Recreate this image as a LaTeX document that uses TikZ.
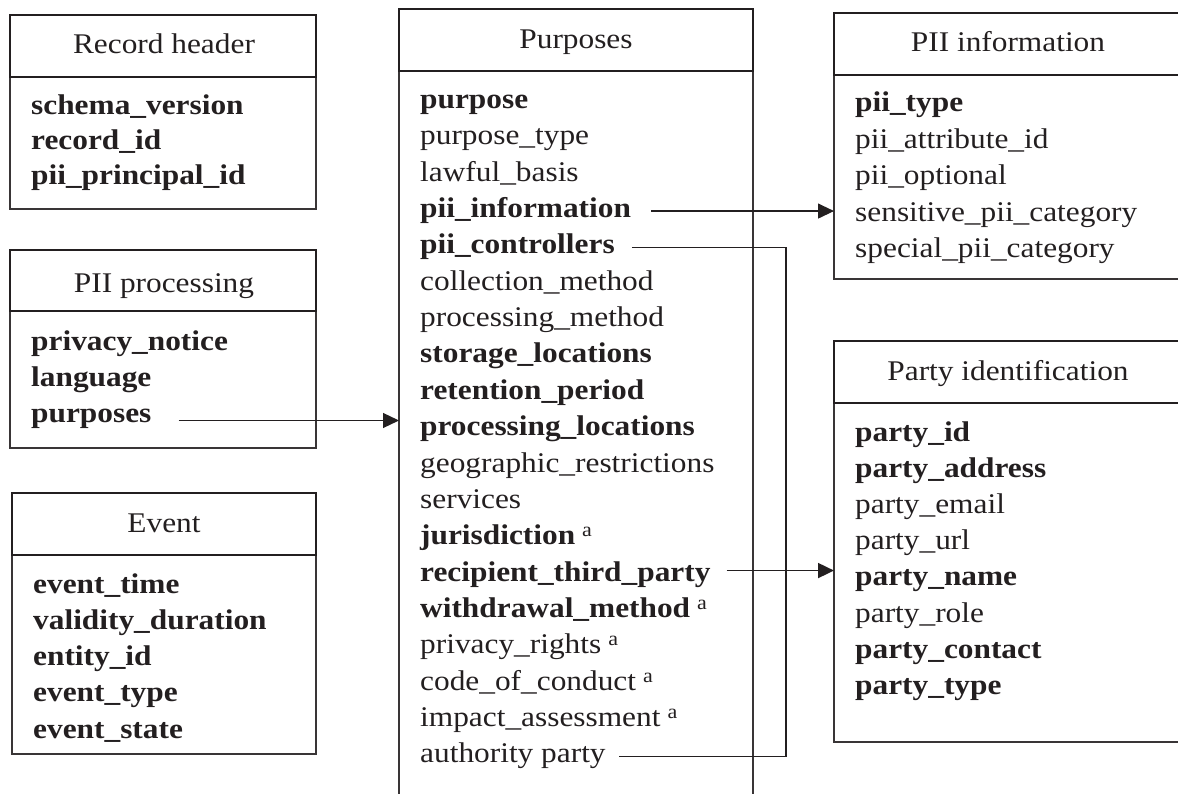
\documentclass[tikz,border=0pt]{standalone}
\usepackage{fontspec}
\setmainfont[FakeStretch=1.1]{Liberation Serif}
\usetikzlibrary{arrows.meta}
\definecolor{ink}{HTML}{231F20}
\newcommand{\supa}{\hspace{7pt}\raisebox{8pt}{\normalfont\fontsize{20}{20}\selectfont a}}
\begin{document}
\begin{tikzpicture}[x=1pt,y=-1pt,
  hdrbox/.style={draw=ink,line width=2.2pt,anchor=north west,inner sep=0pt,outer sep=0pt},
  bodybox/.style={draw=ink!90,line width=1.2pt,anchor=north west,inner sep=0pt,outer sep=0pt},
  title/.style={anchor=base,inner sep=0pt,font=\fontsize{28.5}{34}\selectfont,text=ink},
  item/.style={anchor=base west,inner sep=0pt,text height=20pt,text depth=7pt,font=\fontsize{28.5}{34}\selectfont,text=ink},
  bitem/.style={item,font=\fontsize{28.5}{34}\selectfont\bfseries},
  conn/.style={draw=ink,line width=1.2pt},
  arr/.style={conn,-{Triangle[length=16pt,width=15pt]}}
]
\useasboundingbox (0,0) rectangle (1178,794);
\clip (0,0) rectangle (1178,794);

% ---------- Record header
\node[bodybox,minimum width=306pt,minimum height=132pt] (rhb) at (10,77) {};
\node[hdrbox,minimum width=306pt,minimum height=62pt] (rhh) at (10,15) {};
\node[title] (rht) at (164,53.5) {Record header};
\node[bitem] (rh1) at (31,115) {schema\_version};
\node[bitem] (rh2) at (31,150) {record\_id};
\node[bitem] (rh3) at (31,184.5) {pii\_principal\_id};

% ---------- PII processing
\node[bodybox,minimum width=306pt,minimum height=137pt] (ppb) at (10,311) {};
\node[hdrbox,minimum width=306pt,minimum height=61pt] (pph) at (10,250) {};
\node[title] (ppt) at (164,293) {PII processing};
\node[bitem] (pp1) at (31,350) {privacy\_notice};
\node[bitem] (pp2) at (31,386) {language};
\node[bitem] (pp3) at (31,422) {purposes};

% ---------- Event
\node[bodybox,minimum width=304pt,minimum height=199pt] (evb) at (12,555) {};
\node[hdrbox,minimum width=304pt,minimum height=62pt] (evh) at (12,493) {};
\node[title] (evt) at (164,532) {Event};
\node[bitem] (ev1) at (33,593) {event\_time};
\node[bitem] (ev2) at (33,629) {validity\_duration};
\node[bitem] (ev3) at (33,665) {entity\_id};
\node[bitem] (ev4) at (33,701.5) {event\_type};
\node[bitem] (ev5) at (33,738) {event\_state};

% ---------- Purposes
\node[bodybox,minimum width=354pt,minimum height=760pt] (pub) at (399,71) {};
\node[hdrbox,minimum width=354pt,minimum height=62pt] (puh) at (399,9) {};
\node[title] (put) at (576,48.5) {Purposes};
\node[bitem] (pu1)  at (420,108.5) {purpose};
\node[item]  (pu2)  at (420,144.85) {purpose\_type};
\node[item]  (pu3)  at (420,181.2) {lawful\_basis};
\node[bitem] (pu4)  at (420,217.55) {pii\_information};
\node[bitem] (pu5)  at (420,253.9) {pii\_controllers};
\node[item]  (pu6)  at (420,290.25) {collection\_method};
\node[item]  (pu7)  at (420,326.6) {processing\_method};
\node[bitem] (pu8)  at (420,362.95) {storage\_locations};
\node[bitem] (pu9)  at (420,399.3) {retention\_period};
\node[bitem] (pu10) at (420,435.65) {processing\_locations};
\node[item]  (pu11) at (420,472) {geographic\_restrictions};
\node[item]  (pu12) at (420,508.35) {services};
\node[bitem] (pu13) at (420,544.7) {jurisdiction\supa};
\node[bitem] (pu14) at (420,581.05) {recipient\_third\_party};
\node[bitem] (pu15) at (420,617.4) {withdrawal\_method\supa};
\node[item]  (pu16) at (420,653.75) {privacy\_rights\supa};
\node[item]  (pu17) at (420,690.1) {code\_of\_conduct\supa};
\node[item]  (pu18) at (420,726.45) {impact\_assessment\supa};
\node[item]  (pu19) at (420,762.8) {authority party};

% ---------- PII information
\node[bodybox,minimum width=348pt,minimum height=204pt] (pib) at (834,75) {};
\node[hdrbox,minimum width=348pt,minimum height=62pt] (pih) at (834,13) {};
\node[title] (pit) at (1008,52) {PII information};
\node[bitem] (pi1) at (855,112) {pii\_type};
\node[item]  (pi2) at (855,148.4) {pii\_attribute\_id};
\node[item]  (pi3) at (855,184.8) {pii\_optional};
\node[item]  (pi4) at (855,221.2) {sensitive\_pii\_category};
\node[item]  (pi5) at (855,257.6) {special\_pii\_category};

% ---------- Party identification
\node[bodybox,minimum width=348pt,minimum height=339pt] (pab) at (834,403) {};
\node[hdrbox,minimum width=348pt,minimum height=62pt] (pah) at (834,341) {};
\node[title] (pat) at (1008,380) {Party identification};
\node[bitem] (pa1) at (855,441) {party\_id};
\node[bitem] (pa2) at (855,477.2) {party\_address};
\node[item]  (pa3) at (855,513.4) {party\_email};
\node[item]  (pa4) at (855,549.6) {party\_url};
\node[bitem] (pa5) at (855,585.8) {party\_name};
\node[item]  (pa6) at (855,622) {party\_role};
\node[bitem] (pa7) at (855,658.2) {party\_contact};
\node[bitem] (pa8) at (855,694.4) {party\_type};

% ---------- connectors
\coordinate (bk) at (786,0);
\draw[arr] ([xshift=27pt,yshift=-5pt]pp3.east) -- ([yshift=-5pt]pp3.east -| pub.west);
\draw[arr] ([xshift=20pt]pu4.east) -- (pu4.east -| pib.west);
\draw[conn] ([xshift=17pt]pu5.east) -| (bk |- pu19.east) -- ([xshift=13pt]pu19.east);
\draw[arr,line width=1.8pt] ([xshift=16pt,yshift=4pt]pu14.east) -- ([yshift=4pt]pu14.east -| pab.west);
\end{tikzpicture}
\end{document}
